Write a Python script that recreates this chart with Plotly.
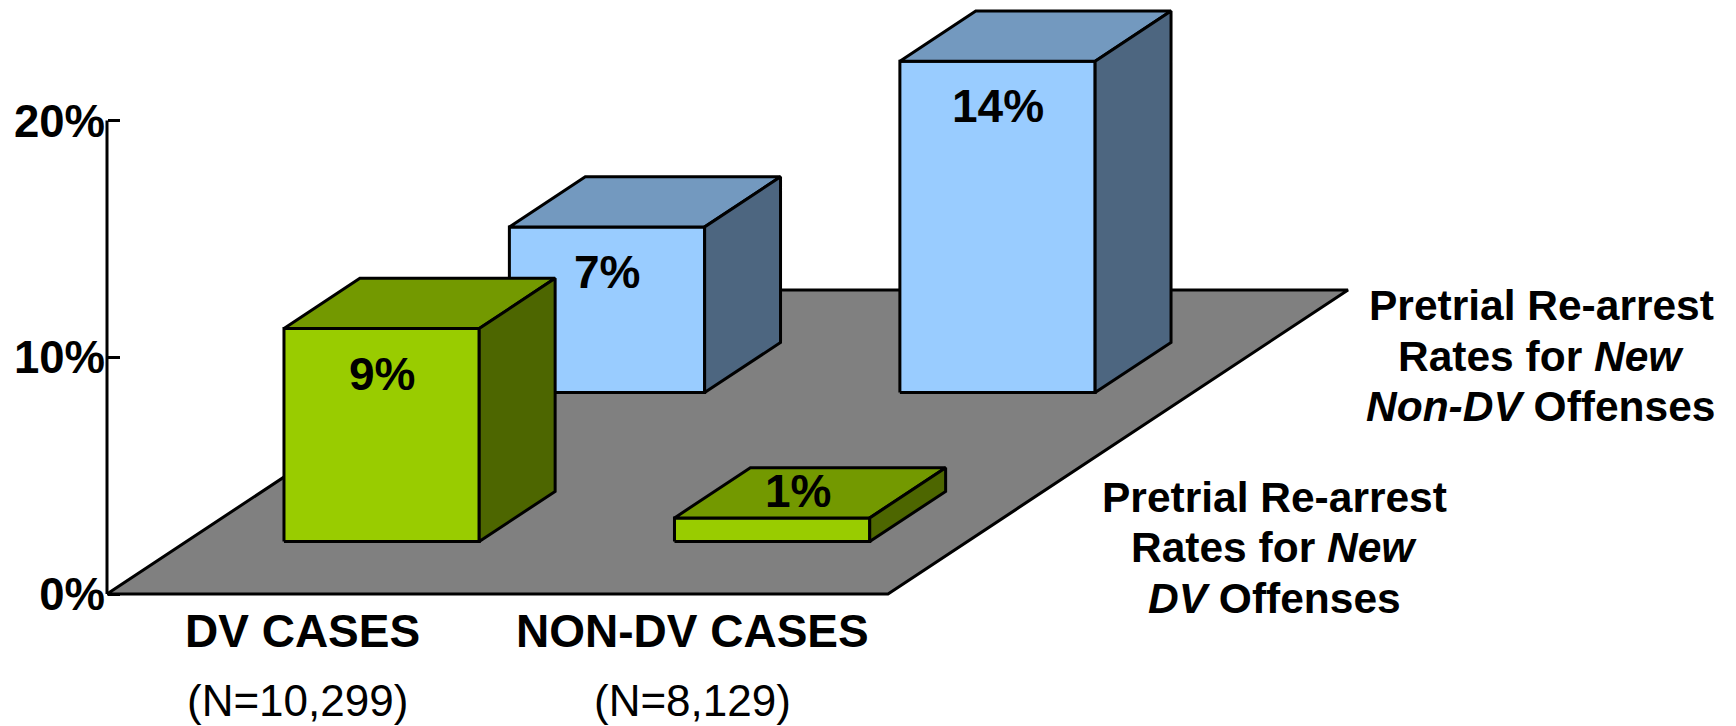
import plotly.graph_objects as go

# ---- data -------------------------------------------------------------
categories = ["DV CASES", "NON-DV CASES"]
case_counts = ["(N=10,299)", "(N=8,129)"]

# front row: re-arrest for new DV offenses; back row: new non-DV offenses
new_dv_rates = [9, 1]
new_nondv_rates = [7, 14]

dv_series_lines = ["Pretrial Re-arrest", "Rates for <i>New</i>", "<i>DV</i> Offenses"]
nondv_series_lines = ["Pretrial Re-arrest", "Rates for <i>New</i>", "<i>Non-DV</i> Offenses"]

y_ticks = [0, 10, 20]
y_tick_labels = ["0%", "10%", "20%"]

# ---- geometry of the oblique 3-D view -----------------------------------
W, H = 1736, 726
PX_PER_CAT = 390.5          # pixels per category slot
PX_PER_PCT = 23.67          # pixels per percentage point
ORIGIN_X, ORIGIN_Y = 107, 594   # pixel position of (category 0, 0%)
DEPTH_DX = 460 / PX_PER_CAT  # floor depth, in category units
DEPTH_DY = 304 / PX_PER_PCT  # floor depth, in percent units

ROW_CENTERS = [0.255, 0.745]   # depth of each series row (0 = front)
ROW_DEPTH = 0.165
BAR_WIDTH = 0.5

FONT = "Liberation Sans, Arial, sans-serif"

STYLES = [
    dict(front="#99CC00", top="#739900", side="#4D6600"),   # DV offenses
    dict(front="#99CCFF", top="#7399BF", side="#4D6680"),   # non-DV offenses
]


def proj(x, d, v):
    """Map (category position, depth, value) to 2-D plot coordinates."""
    return x + d * DEPTH_DX, v + d * DEPTH_DY


def poly(points, color):
    xs, ys = zip(*[proj(*p) for p in points])
    xs = list(xs) + [xs[0]]
    ys = list(ys) + [ys[0]]
    return go.Scatter(x=xs, y=ys, mode="lines", fill="toself",
                      fillcolor=color, line=dict(color="black", width=3),
                      hoverinfo="skip", showlegend=False)


fig = go.Figure()

# floor
n_cat = len(categories)
fig.add_trace(poly([(0, 0, 0), (n_cat, 0, 0), (n_cat, 1, 0), (0, 1, 0)], "#808080"))

annotations = []
rows = [new_dv_rates, new_nondv_rates]
label_font = dict(family=FONT, size=46, color="black", weight="bold")

# paint back row first so the front row overlaps it
for r in [1, 0]:
    vals = rows[r]
    st = STYLES[r]
    d0 = ROW_CENTERS[r] - ROW_DEPTH / 2
    d1 = ROW_CENTERS[r] + ROW_DEPTH / 2
    for i, v in enumerate(vals):
        x0 = i + 0.5 - BAR_WIDTH / 2
        x1 = i + 0.5 + BAR_WIDTH / 2
        fig.add_trace(poly([(x0, d0, 0), (x1, d0, 0), (x1, d0, v), (x0, d0, v)], st["front"]))
        fig.add_trace(poly([(x0, d0, v), (x1, d0, v), (x1, d1, v), (x0, d1, v)], st["top"]))
        fig.add_trace(poly([(x1, d0, 0), (x1, d1, 0), (x1, d1, v), (x1, d0, v)], st["side"]))

        if v * PX_PER_PCT > 80:
            # value label inside the front face, near its top
            lx, ly = proj(i + 0.5, d0, v)
            annotations.append(dict(x=lx, y=ly, xref="x", yref="y", text=f"{v}%",
                                    showarrow=False, yanchor="middle", yshift=-45,
                                    font=label_font))
        else:
            # thin bar: label sits on the top face
            lx, ly = proj(i + 0.5, ROW_CENTERS[r], v)
            annotations.append(dict(x=lx, y=ly, xref="x", yref="y", text=f"{v}%",
                                    showarrow=False, yanchor="middle", xshift=-12, yshift=2,
                                    font=label_font))

# category labels under the floor
for i, (cat, n) in enumerate(zip(categories, case_counts)):
    annotations.append(dict(x=i + 0.5, y=0, xref="x", yref="y", text=cat,
                            showarrow=False, yanchor="middle", yshift=-37,
                            font=dict(family=FONT, size=46, color="black", weight="bold")))
    annotations.append(dict(x=i + 0.5, y=0, xref="x", yref="y", text=n,
                            showarrow=False, yanchor="middle", yshift=-106, xshift=-5 if i == 0 else 0,
                            font=dict(family=FONT, size=44, color="black")))

# series labels to the right of the floor
for lines, cx, cy0 in [(nondv_series_lines, 1541, 306), (dv_series_lines, 1274, 497)]:
    for k, t in enumerate(lines):
        annotations.append(dict(x=cx / W, y=1 - (cy0 + 50.5 * k) / H, xref="paper", yref="paper",
                                text=t, showarrow=False, xanchor="center", yanchor="middle",
                                font=dict(family=FONT, size=42.5, color="black", weight="bold")))

fig.update_layout(
    width=W, height=H, autosize=False,
    margin=dict(l=0, r=0, t=0, b=0, pad=0),
    paper_bgcolor="white", plot_bgcolor="white",
    showlegend=False,
    annotations=annotations,
    xaxis=dict(range=[-ORIGIN_X / PX_PER_CAT, (W - ORIGIN_X) / PX_PER_CAT],
               visible=False, fixedrange=True),
    yaxis=dict(range=[-(H - ORIGIN_Y) / PX_PER_PCT, ORIGIN_Y / PX_PER_PCT],
               anchor="free", position=ORIGIN_X / W,
               tickmode="array", tickvals=y_ticks, ticktext=y_tick_labels,
               ticks="inside", ticklen=12, tickwidth=3, tickcolor="black",
               ticklabelstandoff=2, ticklabeloverflow="allow",
               showline=False, showgrid=False, zeroline=False,
               tickfont=dict(family=FONT, size=45.5, color="black", weight="bold"),
               fixedrange=True),
    shapes=[dict(type="line", xref="x", yref="y", x0=0, x1=0,
                 y0=min(y_ticks), y1=max(y_ticks),
                 line=dict(color="black", width=3))],
)

fig.write_html("out.html")
